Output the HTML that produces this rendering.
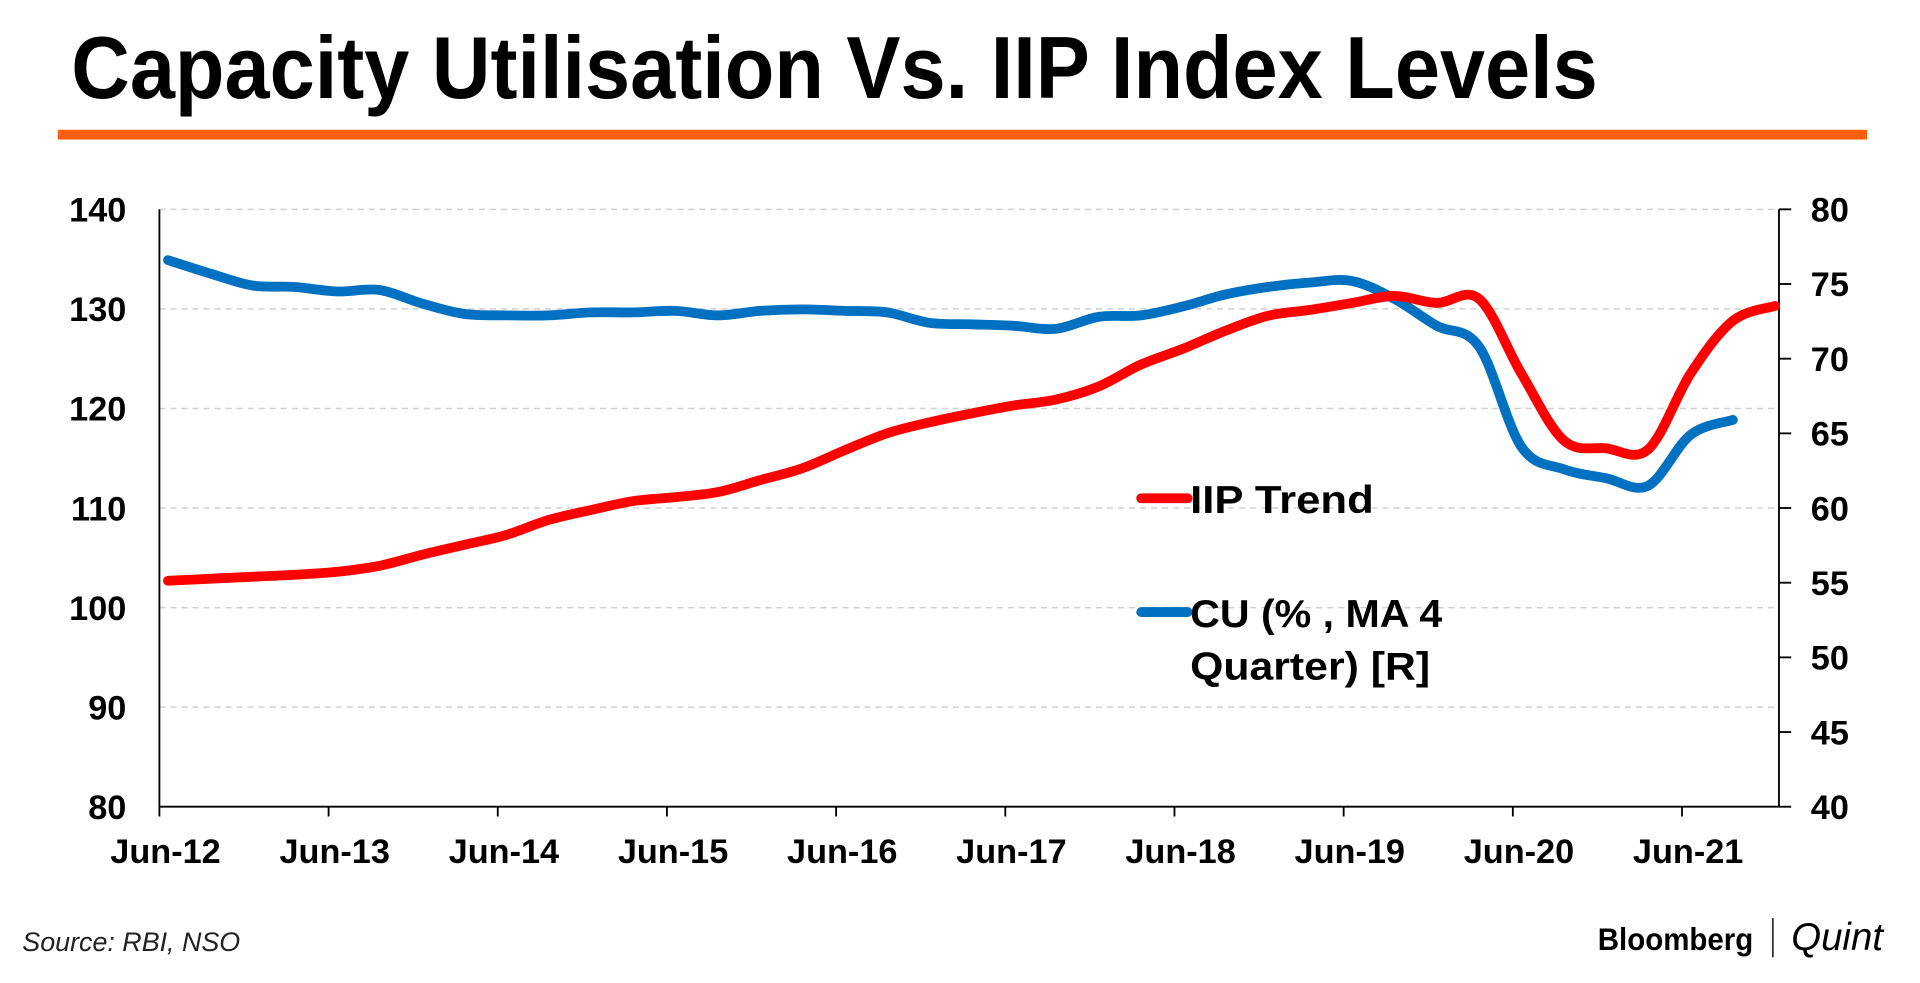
<!DOCTYPE html>
<html><head><meta charset="utf-8"><style>
html,body{margin:0;padding:0;background:#fff;}
svg{display:block;}
text{font-family:"Liberation Sans",Arial,sans-serif;}
</style></head><body>
<svg id="chart" width="1920" height="983" viewBox="0 0 1568 803" xmlns="http://www.w3.org/2000/svg">
<text x="58" y="80" font-size="72" font-weight="bold" textLength="1247" lengthAdjust="spacingAndGlyphs" fill="#000">Capacity Utilisation Vs. IIP Index Levels</text>
<rect x="47" y="106" width="1478" height="8" fill="#ff5f0f"/>
<g id="grid"></g>
<g id="axes"></g>
<g id="series"></g>
<g>
<line x1="932" y1="407" x2="970" y2="407" stroke="#ff0000" stroke-width="8" stroke-linecap="round"/>
<text x="972" y="419" font-size="32" font-weight="bold" textLength="150" lengthAdjust="spacingAndGlyphs">IIP Trend</text>
<line x1="932" y1="500" x2="970" y2="500" stroke="#0070c0" stroke-width="8" stroke-linecap="round"/>
<text x="972" y="512" font-size="32" font-weight="bold" textLength="206" lengthAdjust="spacingAndGlyphs">CU (% , MA 4</text>
<text x="972" y="555" font-size="32" font-weight="bold" textLength="196" lengthAdjust="spacingAndGlyphs">Quarter) [R]</text>
</g>
<text x="18" y="777" font-size="22" font-style="italic" fill="#222" textLength="178" lengthAdjust="spacingAndGlyphs">Source: RBI, NSO</text>
<text x="1305" y="776" font-size="26" font-weight="bold" textLength="127" lengthAdjust="spacingAndGlyphs">Bloomberg</text>
<line x1="1448" y1="750" x2="1448" y2="782" stroke="#333" stroke-width="1.5"/>
<text x="1463" y="776" font-size="32" font-style="italic" font-family="Liberation Serif,serif" textLength="75" lengthAdjust="spacingAndGlyphs">Quint</text>
</svg>
<script>
const xLabels=["Jun-12","Jun-13","Jun-14","Jun-15","Jun-16","Jun-17","Jun-18","Jun-19","Jun-20","Jun-21"];
const leftTicks=[80,90,100,110,120,130,140];
const rightTicks=[40,45,50,55,60,65,70,75,80];
// quarterly from Jun-12
const iipValues=[102.7,102.9,103.1,103.3,103.6,104.2,105.3,106.3,107.3,108.8,109.8,110.7,111.1,111.6,112.8,114.0,115.8,117.5,118.6,119.5,120.3,120.9,122.2,124.4,126.0,127.8,129.3,129.9,130.6,131.3,130.6,131.0,123.5,116.8,116.0,115.9,123.5,128.8,130.3];
const cuValues=[76.6,75.7,74.9,74.8,74.5,74.6,73.7,73.0,72.9,72.9,73.1,73.1,73.2,72.9,73.2,73.3,73.2,73.1,72.4,72.3,72.2,72.0,72.8,72.9,73.5,74.3,74.8,75.1,75.2,74.0,72.2,70.8,64.1,62.6,62.0,61.5,64.9,65.9];
const L=130,R=1453,T=171,B=659,YEARPX=138.2;
const xq=i=>L+7+i*YEARPX/4;
const yL=v=>B-(v-80)/60*(B-T);
const yR=v=>B-(v-40)/40*(B-T);
const NS="http://www.w3.org/2000/svg";
function mk(t,a,p){const e=document.createElementNS(NS,t);for(const k in a)e.setAttribute(k,a[k]);p.appendChild(e);return e;}
const grid=document.getElementById('grid'),axes=document.getElementById('axes'),ser=document.getElementById('series');
leftTicks.forEach(v=>{
 if(v>80){const g=mk('line',{x1:L,x2:R,y1:yL(v),y2:yL(v),stroke:'#d0d0d0','stroke-width':1.2,'stroke-dasharray':'5,4'},grid);
 
 }
 const t=mk('text',{x:103,y:yL(v)+10,'font-size':28,'font-weight':'bold','text-anchor':'end'},axes);t.textContent=v;
 
 
});
rightTicks.forEach(v=>{
 mk('line',{x1:R,x2:R+10,y1:yR(v),y2:yR(v),stroke:'#000','stroke-width':1.5},axes);
 const t=mk('text',{x:1479,y:yR(v)+10,'font-size':28,'font-weight':'bold'},axes);t.textContent=v;
 
 
});
mk('line',{x1:L,x2:L,y1:T,y2:B,stroke:'#000','stroke-width':1.5},axes);
mk('line',{x1:R,x2:R,y1:T,y2:B,stroke:'#000','stroke-width':1.5},axes);
mk('line',{x1:L,x2:R,y1:B,y2:B,stroke:'#000','stroke-width':1.5},axes);
xLabels.forEach((s,i)=>{
 const x=L+i*YEARPX;
 mk('line',{x1:x,x2:x,y1:B,y2:B+8,stroke:'#000','stroke-width':1.5},axes);
 const t=mk('text',{x:x+5,y:B+46,'font-size':28,'font-weight':'bold','text-anchor':'middle'},axes);t.textContent=s;
 
 
});
function smooth(pts){let d='M'+pts[0][0]+','+pts[0][1];
 for(let i=0;i<pts.length-1;i++){const p0=pts[i-1]||pts[i],p1=pts[i],p2=pts[i+1],p3=pts[i+2]||p2;
 d+=' C'+(p1[0]+(p2[0]-p0[0])/6)+','+(p1[1]+(p2[1]-p0[1])/6)+' '+(p2[0]-(p3[0]-p1[0])/6)+','+(p2[1]-(p3[1]-p1[1])/6)+' '+p2[0]+','+p2[1];}
 return d;}
const cu=mk('path',{d:smooth(cuValues.map((v,i)=>[xq(i),yR(v)])),fill:'none',stroke:'#0070c0','stroke-width':8,'stroke-linecap':'round','stroke-linejoin':'round'},ser);


const iip=mk('path',{d:smooth(iipValues.map((v,i)=>[xq(i),yL(v)])),fill:'none',stroke:'#ff0000','stroke-width':8,'stroke-linecap':'round','stroke-linejoin':'round'},ser);


</script>
</body></html>
